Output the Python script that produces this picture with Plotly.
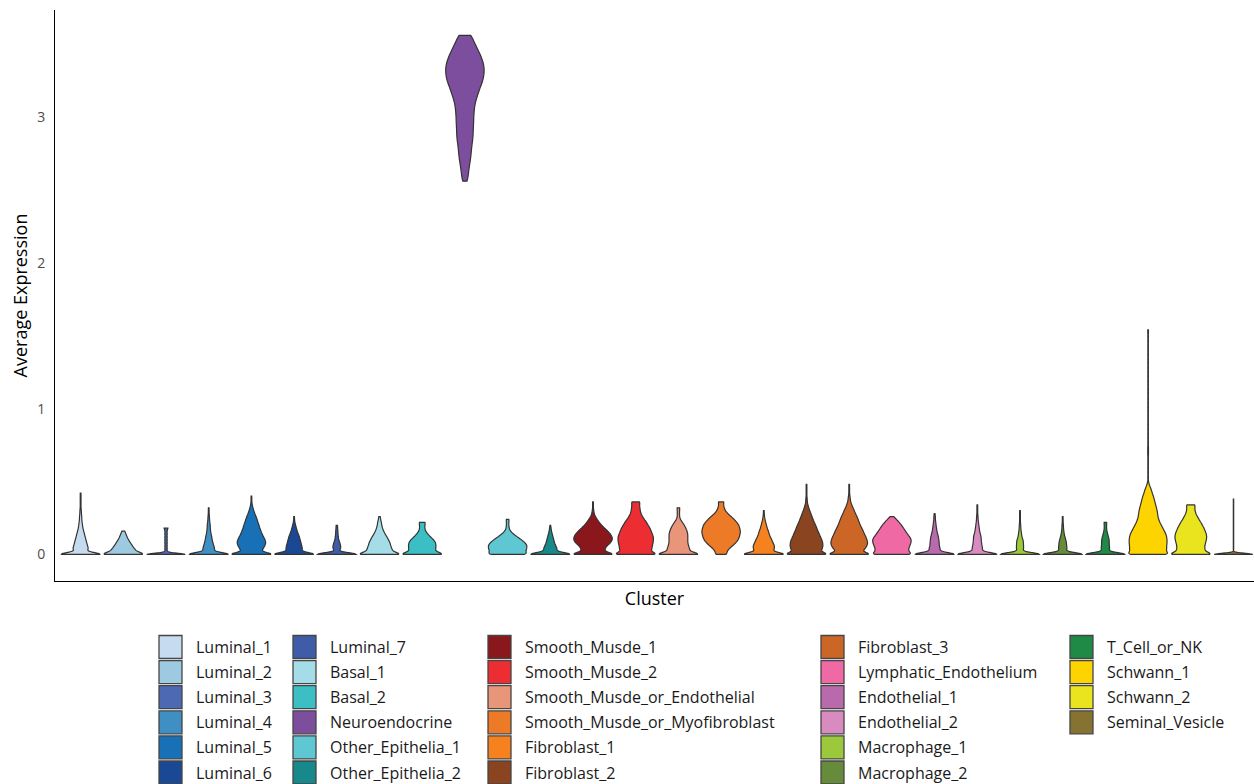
import numpy as np
import plotly.graph_objects as go

# ---- clusters, in plotting order -------------------------------------------
CLUSTERS = [
    "Luminal_1", "Luminal_2", "Luminal_3", "Luminal_4", "Luminal_5", "Luminal_6",
    "Luminal_7", "Basal_1", "Basal_2", "Neuroendocrine", "Other_Epithelia_1",
    "Other_Epithelia_2", "Smooth_Musde_1", "Smooth_Musde_2",
    "Smooth_Musde_or_Endothelial", "Smooth_Musde_or_Myofibroblast",
    "Fibroblast_1", "Fibroblast_2", "Fibroblast_3", "Lymphatic_Endothelium",
    "Endothelial_1", "Endothelial_2", "Macrophage_1", "Macrophage_2",
    "T_Cell_or_NK", "Schwann_1", "Schwann_2", "Seminal_Vesicle",
]

COLORS = [
    "#c6dbef", "#9ecae1", "#4d69b4", "#3f8fc5", "#1871b7", "#1b4895",
    "#3f5ca9", "#a4dde7", "#3bbfc5", "#7d4e9e", "#5ec7d2", "#17898a",
    "#8a171b", "#ec2d32", "#e8957a", "#ed7a26", "#f5821f", "#8a4420",
    "#cc6627", "#ef69a4", "#b96aad", "#d78bbf", "#9cc93b", "#658b3b",
    "#1f8a45", "#fdd300", "#e9e41d", "#867331",
]

# ---- expression levels ------------------------------------------------------
LOW_LEVELS = [0.00, 0.02, 0.04, 0.06, 0.08, 0.10, 0.12, 0.14, 0.16, 0.18,
              0.20, 0.22, 0.24, 0.26, 0.28, 0.30, 0.32, 0.34, 0.36, 0.38,
              0.40, 0.42, 0.44, 0.46, 0.48, 0.50]
NE_LEVELS = [2.56, 2.60, 2.64, 2.68, 2.72, 2.76, 2.80, 2.84, 2.88, 2.92,
             2.96, 3.00, 3.04, 3.08, 3.12, 3.16, 3.20, 3.24, 3.28, 3.32,
             3.36, 3.40, 3.44, 3.48, 3.52, 3.56]

# ---- number of cells at each expression level, per cluster -----------------
luminal_1 = [72, 14, 21, 18, 16, 14, 12, 10, 8, 6, 5, 4, 3, 3, 2, 2, 1, 1, 1, 1, 1, 1]
luminal_2 = [66, 35, 30, 24, 19, 14, 10, 7, 4]
luminal_3 = [52, 3, 3, 3, 3, 3, 3, 3, 3, 5]
luminal_4 = [72, 12, 16, 13, 11, 9, 8, 6, 5, 4, 4, 3, 2, 2, 1, 1, 1]
luminal_5 = [69, 24, 31, 35, 38, 36, 32, 28, 25, 22, 20, 17, 15, 12, 9, 6, 4, 2, 1, 1, 1]
luminal_6 = [71, 18, 22, 20, 18, 16, 14, 11, 8, 6, 4, 2, 1, 1]
luminal_7 = [75, 1, 11, 10, 8, 5, 4, 3, 3, 2, 2]
basal_1 = [66, 35, 33, 30, 28, 24, 20, 15, 11, 8, 6, 5, 3, 2]
basal_2 = [66, 35, 36, 37, 36, 31, 22, 15, 9, 7, 7, 9]
neuroendocrine = [5, 7, 8, 10, 12, 13, 14, 16, 17, 17, 18, 18, 19, 20, 23,
                  27, 31, 36, 39, 40, 39, 35, 30, 24, 18, 14]
other_epithelia_1 = [52, 46, 49, 50, 45, 36, 25, 15, 7, 4, 3, 3, 4]
other_epithelia_2 = [71, 15, 18, 14, 11, 9, 7, 5, 3, 2, 1]
smooth_musde_1 = [64, 29, 31, 36, 45, 50, 49, 45, 38, 30, 22, 16, 11, 6, 3, 2, 1, 1, 1]
smooth_musde_2 = [63, 40, 43, 44, 46, 47, 47, 44, 41, 38, 33, 29, 23, 18, 14, 12, 11, 10, 12]
smooth_musde_or_endothelial = [68, 30, 30, 27, 25, 25, 25, 25, 23, 20, 16, 11, 5, 3, 3, 3, 4]
smooth_musde_or_myofibroblast = [15, 15, 21, 30, 38, 44, 47, 49, 50, 48, 46, 41, 34, 26, 17, 11, 8, 6, 8]
fibroblast_1 = [70, 22, 28, 28, 24, 21, 17, 14, 12, 9, 7, 5, 3, 2, 1, 1]
fibroblast_2 = [66, 38, 43, 45, 44, 42, 38, 35, 31, 28, 25, 21, 18, 15, 12, 9, 6, 4, 2, 2, 1, 1, 1, 1, 1]
fibroblast_3 = [67, 34, 43, 48, 50, 48, 45, 41, 38, 34, 30, 27, 24, 21, 17, 14, 10, 7, 4, 3, 2, 1, 1, 1, 1]
lymphatic_endothelium = [55, 43, 43, 46, 49, 50, 46, 40, 35, 30, 25, 19, 12, 4]
endothelial_1 = [72, 12, 15, 12, 12, 11, 10, 8, 6, 5, 4, 3, 2, 2, 1]
endothelial_2 = [72, 11, 14, 12, 11, 10, 10, 8, 6, 5, 4, 3, 2, 2, 1, 1, 1, 1]
macrophage_1 = [74, 4, 10, 9, 9, 8, 5, 4, 3, 2, 2, 1, 1, 1, 1, 1]
macrophage_2 = [74, 6, 12, 10, 10, 8, 6, 4, 3, 2, 2, 1, 1, 1]
t_cell_or_nk = [74, 6, 12, 10, 10, 10, 8, 6, 4, 3, 3, 4]
schwann_1 = [57, 48, 49, 49, 50, 50, 49, 47, 43, 39, 35, 31, 28, 26, 25, 24,
             22, 20, 18, 16, 14, 11, 9, 6, 3, 1]
schwann_1_outliers = [0.53, 0.56, 0.59, 0.62, 0.65, 0.68, 0.70, 0.72, 0.74, 0.77,
                      0.80, 0.83, 0.86, 0.89, 0.92, 0.95, 0.98, 1.01, 1.04, 1.07,
                      1.10, 1.13, 1.16, 1.19, 1.22, 1.25, 1.28, 1.31, 1.34, 1.37,
                      1.40, 1.43, 1.46, 1.49, 1.52, 1.54]
schwann_2 = [62, 37, 36, 36, 38, 40, 41, 40, 37, 34, 30, 26, 21, 17, 13, 11, 10, 12]
seminal_vesicle = [110, 0, 1, 1, 1, 1, 1, 1, 1, 1, 1, 1, 1, 1, 1, 1, 1, 1, 1, 1]

CELLS = [
    luminal_1, luminal_2, luminal_3, luminal_4, luminal_5, luminal_6,
    luminal_7, basal_1, basal_2, neuroendocrine, other_epithelia_1,
    other_epithelia_2, smooth_musde_1, smooth_musde_2,
    smooth_musde_or_endothelial, smooth_musde_or_myofibroblast,
    fibroblast_1, fibroblast_2, fibroblast_3, lymphatic_endothelium,
    endothelial_1, endothelial_2, macrophage_1, macrophage_2,
    t_cell_or_nk, schwann_1, schwann_2, seminal_vesicle,
]
OUTLIERS = {"Schwann_1": schwann_1_outliers}

# kernel bandwidth of each density estimate
BANDWIDTH = {"Luminal_3": 0.008, "Neuroendocrine": 0.03, "Seminal_Vesicle": 0.008}
DEFAULT_BW = 0.012

FONT = "Open Sans"
OUTLINE = "#333333"

fig = go.Figure()
for name, color, cells in zip(CLUSTERS, COLORS, CELLS):
    levels = NE_LEVELS if name == "Neuroendocrine" else LOW_LEVELS
    values = np.repeat(np.array(levels[:len(cells)]), cells)
    values = np.concatenate([values, OUTLIERS.get(name, [])])
    fig.add_trace(go.Violin(
        x=[name] * len(values), y=values, name=name,
        width=0.9, scalemode="width", spanmode="hard",
        bandwidth=BANDWIDTH.get(name, DEFAULT_BW),
        fillcolor=color, line=dict(color=OUTLINE, width=1.2), opacity=1,
        points=False, box_visible=False, meanline_visible=False,
        showlegend=False, hoveron="violins",
    ))

# ---- figure geometry (pixels) ----------------------------------------------
W, H = 1254, 784
ML, MR, MT, MB = 55, 0, 10, 203
PW, PH = W - ML - MR, H - MT - MB


def px_x(px):
    return (px - ML) / PW


def px_y(py):
    return (H - MB - py) / PH


# ---- legend: five columns of six keys --------------------------------------
KEY_LEFT = [159, 293, 488, 821, 1070]
KEY_SIZE = 23
ROW_TOP = 635.5
ROW_PITCH = 25.1
TEXT_GAP = 35

shapes, annotations = [], []
for i, (name, color) in enumerate(zip(CLUSTERS, COLORS)):
    col, row = divmod(i, 6)
    kx = KEY_LEFT[col]
    ky = ROW_TOP + row * ROW_PITCH
    shapes.append(dict(
        type="rect", xref="paper", yref="paper",
        x0=px_x(kx), x1=px_x(kx + KEY_SIZE),
        y0=px_y(ky + KEY_SIZE), y1=px_y(ky),
        fillcolor=color, line=dict(color="#454545", width=1.3), layer="above",
    ))
    annotations.append(dict(
        text=name, xref="paper", yref="paper",
        x=px_x(kx + TEXT_GAP), y=px_y(ky + KEY_SIZE / 2),
        xanchor="left", yanchor="middle", showarrow=False,
        font=dict(family=FONT, size=16, color="#1a1a1a"),
    ))

fig.update_layout(
    width=W, height=H, autosize=False,
    margin=dict(l=ML, r=MR, t=MT, b=MB, pad=0),
    paper_bgcolor="white", plot_bgcolor="white",
    violinmode="overlay",
    font=dict(family=FONT),
    shapes=shapes, annotations=annotations,
    xaxis=dict(
        type="category", categoryorder="array", categoryarray=CLUSTERS,
        range=[-0.6, 27.48], showticklabels=False, ticks="",
        showgrid=False, zeroline=False,
        showline=True, linecolor="black", linewidth=1,
        title=dict(text="Cluster", font=dict(family=FONT, size=18, color="black"),
                   standoff=11),
    ),
    yaxis=dict(
        range=[-0.182, 3.734], tickvals=[0, 1, 2, 3], ticktext=["0", "1", "2", "3"],
        ticks="", ticklabelstandoff=6,
        tickfont=dict(family=FONT, size=14, color="#4d4d4d"),
        showgrid=False, zeroline=False,
        showline=True, linecolor="black", linewidth=1,
        title=dict(text="Average Expression",
                   font=dict(family=FONT, size=18, color="black"), standoff=4),
    ),
)

fig.write_html("out.html")
